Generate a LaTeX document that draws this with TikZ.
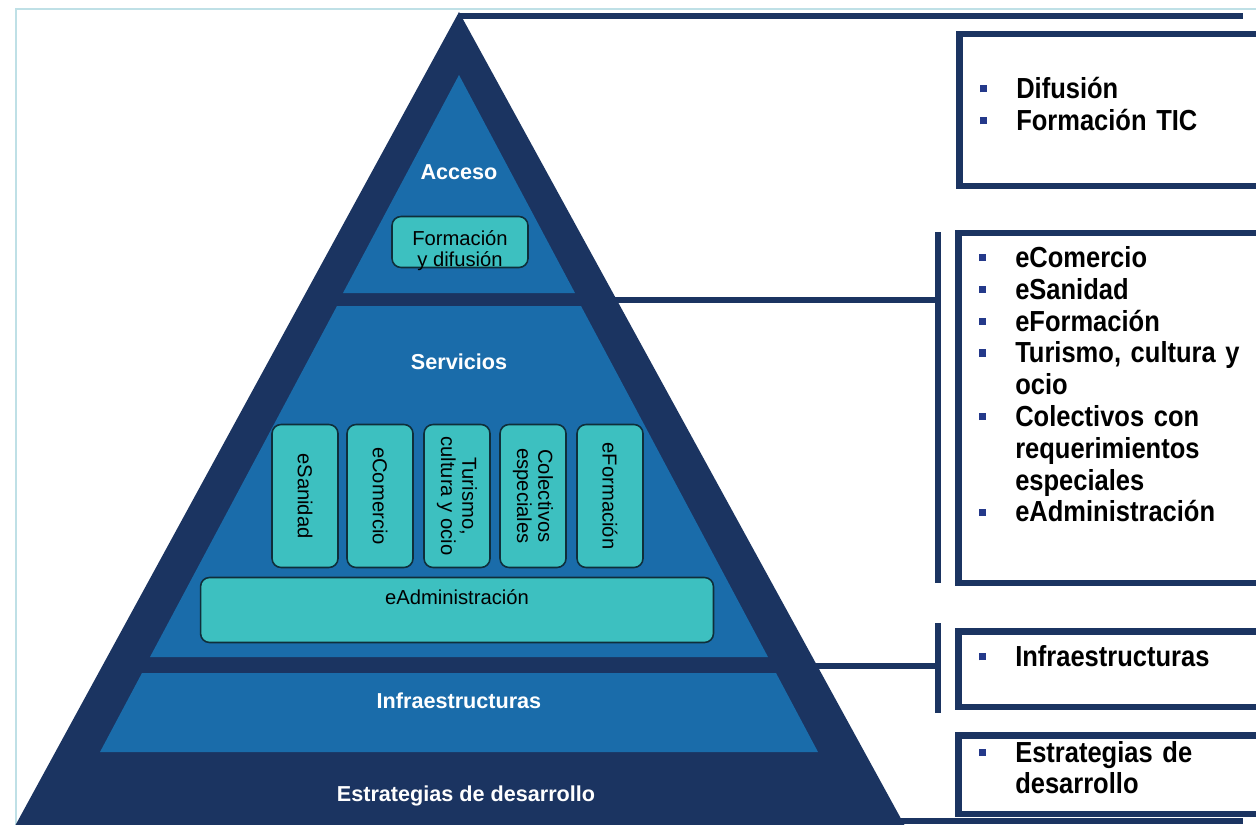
\documentclass[tikz,border=0pt]{standalone}
\usepackage{fontspec}
\setmainfont{Liberation Sans}
\newfontfamily\listfont[FakeStretch=0.88]{Liberation Sans}
\usetikzlibrary{positioning}
\definecolor{navy}{HTML}{1B3461}
\definecolor{layerblue}{HTML}{1A6CAA}
\definecolor{tealfill}{HTML}{3DC0C0}
\definecolor{tealedge}{HTML}{0F2E3A}
\definecolor{framecyan}{HTML}{BFE0E6}
\definecolor{bulletblue}{HTML}{24398A}
\newcommand{\bulletsq}{\textcolor{bulletblue}{\rule[0.22em]{4pt}{4pt}}}
\newcommand{\itm}{\makebox[0.72cm][l]{\bulletsq}}
\newcommand{\cont}{\hspace*{0.72cm}}

\begin{document}
\begin{tikzpicture}
        [x=0.02cm, y=-0.02cm,
        layer/.style={fill=layerblue},
        levellabel/.style={text=white, font=\bfseries\fontsize{12.3}{14}\selectfont},
        tealbox/.style={fill=tealfill, draw=tealedge, line width=0.9pt,
        rounded corners=0.18cm, font=\fontsize{11.5}{12}\selectfont,
        align=center, inner sep=1pt},
        vbox/.style={tealbox, rotate=-90, minimum width=2.86cm, minimum height=1.32cm},
        infobox/.style={draw=navy, fill=white, line width=0.13cm,
        anchor=north west, minimum width=7cm, inner xsep=0.42cm,
        text width=6.16cm, align=left,
        font=\listfont\bfseries\fontsize{16.5}{18.1}\selectfont},
        link/.style={draw=navy, line width=0.13cm}]
        \useasboundingbox (0,0) rectangle (1256,824);
        % frame
        \draw[framecyan, line width=0.05cm] (16,826) -- (16,9) -- (1260,9);
        % pyramid
        \fill[navy] (459,12) -- (905,826) -- (15,826) -- cycle;
        \fill[layer] (459,75) -- (575,293) -- (343,293) -- cycle;
        \fill[layer] (337,306) -- (581,306) -- (768,657) -- (150,657) -- cycle;
        \fill[layer] (142,673) -- (776,673) -- (818,752) -- (100,752) -- cycle;
        \node[levellabel] (acceso) at (459,172) {Acceso};
        \node[levellabel] (servicios) at (459,362) {Servicios};
        \node[levellabel] (infra) at (459,701) {Infraestructuras};
        \node[levellabel] (estrategias) at (466,796) {Estrategias de desarrollo};
        % boxes inside
        \node[tealbox, minimum width=2.72cm, minimum height=1.02cm] (formdif) at (460,242)
            {\raisebox{-8.5pt}[0pt][0pt]{\begin{tabular}{@{}c@{}}Formación\\y difusión\end{tabular}}};
        \node[vbox] (esanidad) at (305,496) {eSanidad};
        \node[vbox] (ecomercio) at (380,496) {eComercio};
        \node[vbox] (turismo) at (457,496) {Turismo,\\cultura y ocio};
        \node[vbox] (colectivos) at (533,496) {Colectivos\\especiales};
        \node[vbox] (eformacion) at (610,496) {eFormación};
        \node[tealbox, minimum width=10.26cm, minimum height=1.3cm, text depth=0.5cm]
            (eadmin) at (457,610) {eAdministración};
        % boxes on the right
        \node[infobox, minimum height=3.04cm, text depth=0.88cm] (boxacceso) at (956,31)
            {\itm Difusión\\\itm Formación TIC};
        \node[infobox, minimum height=7cm, text depth=6.05cm] (boxservicios) at (955,230)
            {\itm eComercio\\\itm eSanidad\\\itm eFormación\\
            \itm Turismo, cultura y\\\cont ocio\\\itm Colectivos con\\
            \cont requerimientos\\\cont especiales\\\itm eAdministración};
        \node[infobox, minimum height=1.52cm, text depth=0.52cm] (boxinfra) at (955,628)
            {\itm Infraestructuras};
        \node[infobox, minimum height=1.48cm, text depth=0.92cm] (boxestrat) at (955,732)
            {\itm Estrategias de\\\cont desarrollo};
        % connectors
        \coordinate (apex) at (459,16);
        \coordinate (topend) at (1243,16);
        \coordinate (servjoin) at (600,300);
        \coordinate (servbar) at (938,300);
        \coordinate (servtop) at (938,232);
        \coordinate (servbot) at (938,583);
        \coordinate (infrajoin) at (800,666);
        \coordinate (infrabar) at (938,666);
        \coordinate (infratop) at (938,623);
        \coordinate (infrabot) at (938,713);
        \coordinate (basejoin) at (880,821);
        \coordinate (baseend) at (1243,821);
        \draw[link] (apex) -- (topend);
        \draw[link] (servjoin) -- (servbar);
        \draw[link] (servtop) -- (servbot);
        \draw[link] (infrajoin) -- (infrabar);
        \draw[link] (infratop) -- (infrabot);
        \draw[link] (basejoin) -- (baseend);
\end{tikzpicture}
\end{document}
